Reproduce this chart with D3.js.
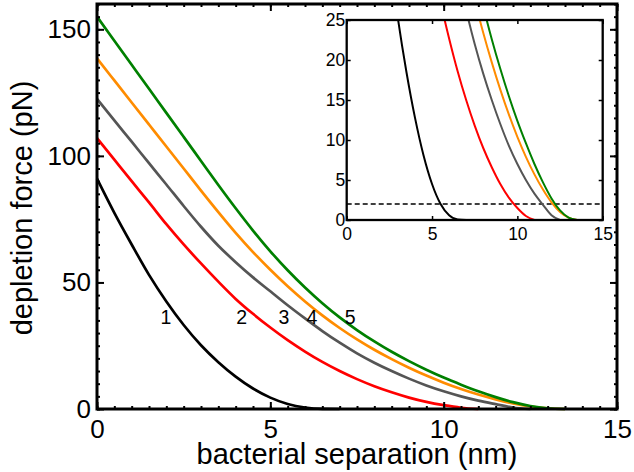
<!DOCTYPE html>
<html>
<head>
<meta charset="utf-8">
<script src="https://cdn.jsdelivr.net/npm/d3@7/dist/d3.min.js"></script>
<style>
    body { margin: 0; background: #fff; }
    svg { display: block; font-family: "Liberation Sans", Arial, Helvetica, sans-serif; }
</style>
</head>
<body>
<div id="chart"></div>
<script>
// separation grid (nm), shared by all curves
const separation = [0, 0.5, 1, 1.5, 2, 2.5, 3, 3.5, 4, 4.5, 5, 5.5, 6, 6.5, 7, 7.5, 8, 8.5, 9, 9.5, 10, 10.5, 11, 11.5, 12, 12.5, 13, 13.5];

// depletion force (pN), one array per curve
const force1 = [91, 77.5, 65, 53, 42.5, 33.2, 25.2, 18.5, 12.8, 8.1, 4.5, 2, 0.6, 0.05, 0];
const force2 = [107, 98.5, 90, 81.6, 73, 65, 57.5, 50.3, 43.5, 37.6, 32.2, 27.2, 22.7, 18.6, 15, 11.8, 9, 6.6, 4.5, 2.8, 1.5, 0.5, 0];
const force3 = [122.5, 114, 105.6, 97.1, 88.7, 80.2, 72, 64.5, 58, 52, 46.5, 41, 35.8, 30.8, 26.2, 22, 18.3, 15, 12, 9.3, 7, 5, 3.3, 1.9, 0.6, 0];
const force4 = [138.5, 129.8, 121.1, 112.4, 103.7, 95, 86.3, 77.8, 69.6, 62, 55, 48.5, 42.5, 37, 32, 27.5, 23.4, 19.7, 16.3, 13.2, 10.4, 7.9, 5.7, 3.8, 2.2, 1, 0.3, 0];
const force5 = [155, 145.5, 136, 126.5, 117, 107.5, 98, 88.5, 79.3, 70.5, 62.3, 54.8, 48, 41.8, 36.2, 31.2, 26.7, 22.6, 18.9, 15.5, 12.4, 9.6, 7, 4.7, 2.7, 1.2, 0.3, 0];

const curveColors = ["#000000", "#ff0000", "#555555", "#ff8c00", "#008000"];
const curveNames = ["1", "2", "3", "4", "5"];
const curveNameX = [1.99, 4.17, 5.39, 6.2, 7.3];
const curveNameY = 33.5;

const mainXTicks = [0, 5, 10, 15];
const mainYTicks = [0, 50, 100, 150];
const insetXTicks = [0, 5, 10, 15];
const insetYTicks = [0, 5, 10, 15, 20, 25];
const thresholdForce = 2;

const series = [force1, force2, force3, force4, force5]
    .map(vals => vals.map((v, j) => ({ x: separation[j], y: v })));

const svg = d3.select("#chart").append("svg")
    .attr("width", 634)
    .attr("height", 472);

// ---- main plot ----
const x = d3.scaleLinear().domain([0, 15]).range([97, 617]);
const y = d3.scaleLinear().domain([0, 160]).range([409, 4]);

const line = d3.line()
    .x(d => x(d.x))
    .y(d => y(d.y))
    .curve(d3.curveMonotoneX);

series.forEach((s, i) => {
    svg.append("path")
        .datum(s)
        .attr("fill", "none")
        .attr("stroke", curveColors[i])
        .attr("stroke-width", 2.7)
        .attr("stroke-linejoin", "round")
        .attr("d", line);
});

svg.selectAll(".curve-name")
    .data(curveNames)
    .enter().append("text")
    .attr("x", (d, i) => x(curveNameX[i]))
    .attr("y", y(curveNameY))
    .attr("text-anchor", "middle")
    .style("font-size", "19.5px")
    .text(d => d);

// helper: axis with inward ticks, domain line removed (frame drawn separately)
function drawAxis(g, axis, width) {
    g.call(axis);
    g.select(".domain").remove();
    g.selectAll(".tick line").attr("stroke", "#000").attr("stroke-width", width);
    return g;
}

const minorX = d3.range(0, 15.01, 0.5);
const minorY = d3.range(0, 160.01, 5);

// bottom
drawAxis(svg.append("g").attr("transform", `translate(0,${y(0)})`),
    d3.axisBottom(x).tickValues(minorX).tickSize(-3).tickFormat(""), 2);
drawAxis(svg.append("g").attr("transform", `translate(0,${y(0)})`),
    d3.axisBottom(x).tickValues(mainXTicks).tickSize(-7).tickPadding(11), 2)
    .selectAll("text").style("font-size", "26px").attr("fill", "#000");
// top
drawAxis(svg.append("g").attr("transform", `translate(0,${y(160)})`),
    d3.axisTop(x).tickValues(minorX).tickSize(-3).tickFormat(""), 2);
drawAxis(svg.append("g").attr("transform", `translate(0,${y(160)})`),
    d3.axisTop(x).tickValues(mainXTicks).tickSize(-7).tickFormat(""), 2);
// left
drawAxis(svg.append("g").attr("transform", `translate(${x(0)},0)`),
    d3.axisLeft(y).tickValues(minorY).tickSize(-3).tickFormat(""), 2);
drawAxis(svg.append("g").attr("transform", `translate(${x(0)},0)`),
    d3.axisLeft(y).tickValues(mainYTicks).tickSize(-7).tickPadding(6), 2)
    .selectAll("text").style("font-size", "26px").attr("fill", "#000");
// right
drawAxis(svg.append("g").attr("transform", `translate(${x(15)},0)`),
    d3.axisRight(y).tickValues(minorY).tickSize(-3).tickFormat(""), 2);
drawAxis(svg.append("g").attr("transform", `translate(${x(15)},0)`),
    d3.axisRight(y).tickValues(mainYTicks).tickSize(-7).tickFormat(""), 2);

svg.append("rect")
    .attr("x", x(0))
    .attr("y", y(160))
    .attr("width", x(15) - x(0))
    .attr("height", y(0) - y(160))
    .attr("fill", "none")
    .attr("stroke", "#000")
    .attr("stroke-width", 3);

// axis titles
svg.append("text")
    .attr("x", (x(0) + x(15)) / 2)
    .attr("y", 463.5)
    .attr("text-anchor", "middle")
    .style("font-size", "29px")
    .text("bacterial separation (nm)");

svg.append("text")
    .attr("transform", "translate(31.5,208) rotate(-90)")
    .attr("text-anchor", "middle")
    .style("font-size", "29px")
    .text("depletion force (pN)");

// ---- inset ----
const ix = d3.scaleLinear().domain([0, 15]).range([346.7, 602.7]);
const iy = d3.scaleLinear().domain([0, 25]).range([220, 20]);

const inset = svg.append("g");

inset.append("rect")
    .attr("x", ix(0))
    .attr("y", iy(25))
    .attr("width", ix(15) - ix(0))
    .attr("height", iy(0) - iy(25))
    .attr("fill", "#fff");

svg.append("defs").append("clipPath")
    .attr("id", "inset-clip")
    .append("rect")
    .attr("x", ix(0))
    .attr("y", iy(25))
    .attr("width", ix(15) - ix(0))
    .attr("height", iy(0) - iy(25));

const insetLine = d3.line()
    .x(d => ix(d.x))
    .y(d => iy(d.y))
    .curve(d3.curveMonotoneX);

const insetCurves = inset.append("g").attr("clip-path", "url(#inset-clip)");

insetCurves.append("line")
    .attr("x1", ix(0))
    .attr("x2", ix(15))
    .attr("y1", iy(thresholdForce))
    .attr("y2", iy(thresholdForce))
    .attr("stroke", "#000")
    .attr("stroke-width", 1.3)
    .attr("stroke-dasharray", "5,3");

series.forEach((s, i) => {
    insetCurves.append("path")
        .datum(s)
        .attr("fill", "none")
        .attr("stroke", curveColors[i])
        .attr("stroke-width", 2)
        .attr("d", insetLine);
});

drawAxis(inset.append("g").attr("transform", `translate(0,${iy(0)})`),
    d3.axisBottom(ix).tickValues(insetXTicks).tickSize(-4).tickPadding(8), 1.5)
    .selectAll("text").style("font-size", "17.5px").attr("fill", "#000");
drawAxis(inset.append("g").attr("transform", `translate(0,${iy(25)})`),
    d3.axisTop(ix).tickValues(insetXTicks).tickSize(-4).tickFormat(""), 1.5);
drawAxis(inset.append("g").attr("transform", `translate(${ix(0)},0)`),
    d3.axisLeft(iy).tickValues(insetYTicks).tickSize(-4).tickPadding(1.5), 1.5)
    .selectAll("text").style("font-size", "17.5px").attr("fill", "#000");
drawAxis(inset.append("g").attr("transform", `translate(${ix(15)},0)`),
    d3.axisRight(iy).tickValues(insetYTicks).tickSize(-4).tickFormat(""), 1.5);

inset.append("rect")
    .attr("x", ix(0))
    .attr("y", iy(25))
    .attr("width", ix(15) - ix(0))
    .attr("height", iy(0) - iy(25))
    .attr("fill", "none")
    .attr("stroke", "#000")
    .attr("stroke-width", 2.3);
</script>
</body>
</html>
